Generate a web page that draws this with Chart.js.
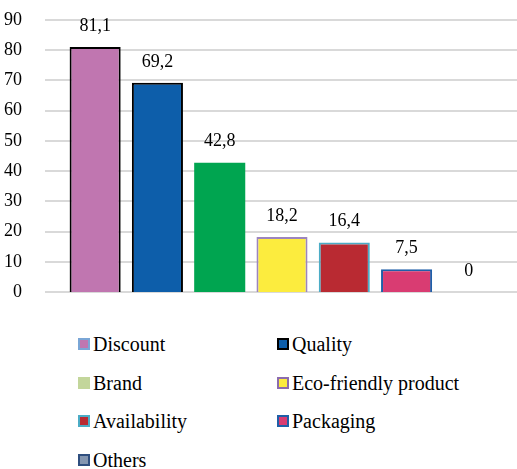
<!DOCTYPE html>
<html>
<head>
<meta charset="utf-8">
<script src="https://cdn.jsdelivr.net/npm/chart.js@4/dist/chart.umd.min.js"></script>
<style>
  body { margin: 0; background: #fff; }
  #wrap { position: relative; width: 517px; height: 320px; }
  #legend { position: absolute; left: 0; top: 320px; width: 517px; font-family: "Liberation Serif", Tinos, "Times New Roman", Times, "DejaVu Serif", serif; font-size: 20px; color: #000; }
  .item { position: absolute; white-space: nowrap; line-height: 20px; }
  .sw { position: absolute; left: 0; top: 4px; width: 8px; height: 8px; border: 2px solid; }
  .item span.t { position: absolute; left: 15px; top: 0; }
</style>
</head>
<body>
<div id="wrap"><canvas id="barChart" width="517" height="320"></canvas></div>
<div id="legend"></div>
<script>
const categories = ['Discount', 'Quality', 'Brand', 'Eco-friendly product', 'Availability', 'Packaging', 'Others'];
const values = [81.1, 69.2, 42.8, 18.2, 16.4, 7.5, 0];
const barColors = ['#c076b0', '#0d5eaa', '#00a550', '#fcec3e', '#b92a32', '#d93c72', '#8496b0'];
const barBorders = ['#000000', '#000000', '#00a550', '#9c85be', '#4bacc6', '#1f5fa8', '#1f3864'];
const borderWidths = [2, 2, 0, 2, 2, 2, 0];
const legendFill = ['#c076b0', '#0d5eaa', '#c3d69b', '#fcec3e', '#b92a32', '#d93c72', '#8496b0'];
const legendBorder = ['#7aa6d6', '#000000', '#c3d69b', '#8c6cae', '#4bacc6', '#1f5fa8', '#2f4f7f'];
const yTicks = [0, 10, 20, 30, 40, 50, 60, 70, 80, 90];

const serif = '"Liberation Serif", Tinos, "Times New Roman", Times, "DejaVu Serif", serif';

// horizontal gridlines wider than the category area
const gridPlugin = {
  id: 'wideGrid',
  beforeDatasetsDraw(chart) {
    const c = chart.ctx, y = chart.scales.y;
    c.save();
    c.strokeStyle = '#d9d9d9';
    c.lineWidth = 2;
    yTicks.forEach(v => {
      const py = Math.round(y.getPixelForValue(v));
      c.beginPath();
      c.moveTo(45, py);
      c.lineTo(517, py);
      c.stroke();
    });
    c.restore();
  }
};

const labelPlugin = {
  id: 'valueLabels',
  afterDatasetsDraw(chart) {
    const c = chart.ctx;
    c.save();
    c.font = '18px ' + serif;
    c.fillStyle = '#000';
    c.textAlign = 'center';
    c.textBaseline = 'middle';
    chart.getDatasetMeta(0).data.forEach((bar, i) => {
      c.fillText(String(values[i]).replace('.', ','), bar.x, bar.y - 21);
    });
    c.restore();
  }
};

const ctx = document.getElementById('barChart');
const barChart = new Chart(ctx, {
  type: 'bar',
  data: {
    labels: categories,
    datasets: [{
      data: values,
      backgroundColor: barColors,
      borderColor: barBorders,
      borderWidth: borderWidths,
      barPercentage: 0.82,
      categoryPercentage: 1
    }]
  },
  options: {
    responsive: false,
    animation: false,
    layout: { padding: { top: 20, right: 17, bottom: 28, left: 0 } },
    plugins: { legend: { display: false }, tooltip: { enabled: false } },
    scales: {
      x: { display: false, offset: true },
      y: {
        min: 0, max: 90,
        afterFit(scale) {
          scale.width = 64;
          scale.paddingTop = 0;
          scale.paddingBottom = 0;
        },
        grid: { display: false },
        border: { display: false },
        ticks: {
          stepSize: 10,
          padding: 34,
          color: '#000',
          font: { family: serif, size: 18 }
        }
      }
    }
  },
  plugins: [gridPlugin, labelPlugin]
});

// two column legend
const legend = document.getElementById('legend');
categories.forEach((name, i) => {
  const col = i % 2, row = Math.floor(i / 2);
  const item = document.createElement('div');
  item.className = 'item';
  item.style.left = (col === 0 ? 78 : 277) + 'px';
  item.style.top = (14 + row * 38.5) + 'px';
  const sw = document.createElement('span');
  sw.className = 'sw';
  sw.style.background = legendFill[i];
  sw.style.borderColor = legendBorder[i];
  const t = document.createElement('span');
  t.className = 't';
  t.textContent = name;
  item.appendChild(sw);
  item.appendChild(t);
  legend.appendChild(item);
});
</script>
</body>
</html>
